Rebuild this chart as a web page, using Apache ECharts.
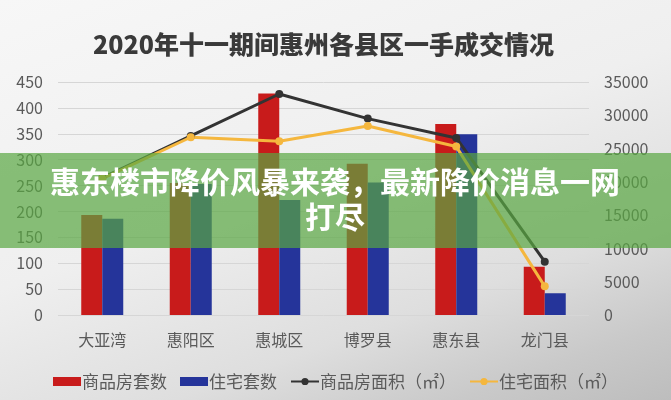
<!DOCTYPE html>
<html>
<head>
<meta charset="utf-8">
<script src="https://cdn.jsdelivr.net/npm/echarts@6/dist/echarts.min.js"></script>
<style>
  html, body { margin: 0; padding: 0; }
  #chart {
    width: 671px; height: 400px;
    background: linear-gradient(160deg, #f7f7f7 0%, #efefef 45%, #dedede 72%, #c9c9c9 88%, #bdbdbd 100%);
  }
</style>
</head>
<body>
<div id="chart"></div>
<script>
// 县区
const districts = ['大亚湾', '惠阳区', '惠城区', '博罗县', '惠东县', '龙门县'];
// 套数（左轴）
const commercialUnits = [193, 255, 428, 292, 369, 93];
const residentialUnits = [186, 253, 222, 256, 349, 42];
// 面积 ㎡（右轴）
const commercialArea = [20600, 26900, 33200, 29500, 26600, 8000];
const residentialArea = [20500, 26700, 26100, 28400, 25300, 4300];

const seriesNames = ['商品房套数', '住宅套数', '商品房面积（㎡）', '住宅面积（㎡）'];

const FONT = '"Noto Sans CJK SC", "Noto Sans", sans-serif';
const labelColor = '#5a5a5a';

const chart = echarts.init(document.getElementById('chart'));
chart.setOption({
  backgroundColor: 'transparent',
  textStyle: { fontFamily: FONT },
  title: {
    text: '2020年十一期间惠州各县区一手成交情况',
    left: 88,
    top: 27,
    textStyle: { fontFamily: FONT, fontSize: 25, fontWeight: 900, color: '#3a3a3a' }
  },
  legend: {
    top: 368,
    left: 'center',
    itemGap: 13,
    itemWidth: 28,
    itemHeight: 9,
    textStyle: { fontFamily: FONT, fontSize: 17, color: labelColor, padding: [0, 0, 0, -4] },
    data: [
      { name: seriesNames[0], icon: 'rect' },
      { name: seriesNames[1], icon: 'rect' },
      { name: seriesNames[2] },
      { name: seriesNames[3] }
    ]
  },
  grid: { left: 58, right: 82, top: 82, bottom: 85 },
  xAxis: {
    type: 'category',
    data: districts,
    axisLine: { show: false },
    axisTick: { show: false },
    axisLabel: { margin: 17, fontSize: 16, color: labelColor, fontFamily: FONT }
  },
  yAxis: [
    {
      type: 'value', min: 0, max: 450, interval: 50,
      axisLine: { show: false }, axisTick: { show: false },
      axisLabel: { margin: 15, fontSize: 16, color: labelColor, fontFamily: FONT },
      splitLine: { lineStyle: { color: '#d6d6d6', width: 1 } }
    },
    {
      type: 'value', min: 0, max: 35000, interval: 5000,
      axisLine: { show: false }, axisTick: { show: false },
      axisLabel: {
        margin: 15, fontSize: 16, color: labelColor, fontFamily: FONT,
        formatter: v => String(v)
      },
      splitLine: { show: false }
    }
  ],
  series: [
    {
      name: seriesNames[0], type: 'bar', data: commercialUnits,
      barWidth: 21, barGap: '0%',
      itemStyle: { color: '#c81b1b' }
    },
    {
      name: seriesNames[1], type: 'bar', data: residentialUnits,
      barWidth: 21,
      itemStyle: { color: '#25349a' }
    },
    {
      name: seriesNames[2], type: 'line', yAxisIndex: 1, data: commercialArea,
      symbol: 'circle', symbolSize: 8,
      lineStyle: { color: '#333333', width: 3 },
      itemStyle: { color: '#333333' }
    },
    {
      name: seriesNames[3], type: 'line', yAxisIndex: 1, data: residentialArea,
      symbol: 'circle', symbolSize: 8,
      lineStyle: { color: '#f5b73e', width: 3 },
      itemStyle: { color: '#f5b73e' }
    }
  ],
  graphic: [
    {
      type: 'rect', z: 100,
      shape: { x: 0, y: 153, width: 671, height: 95 },
      style: { fill: 'rgba(88,166,66,0.7)' }
    },
    {
      type: 'text', z: 101, x: 335, y: 182,
      style: {
        text: '惠东楼市降价风暴来袭，最新降价消息一网',
        fill: '#ffffff', font: 'bold 30px "Noto Sans CJK SC"',
        align: 'center', verticalAlign: 'middle',
        shadowColor: 'rgba(0,0,0,0.25)', shadowBlur: 2
      }
    },
    {
      type: 'text', z: 101, x: 335, y: 217,
      style: {
        text: '打尽',
        fill: '#ffffff', font: 'bold 30px "Noto Sans CJK SC"',
        align: 'center', verticalAlign: 'middle',
        shadowColor: 'rgba(0,0,0,0.25)', shadowBlur: 2
      }
    }
  ]
});
</script>
</body>
</html>
